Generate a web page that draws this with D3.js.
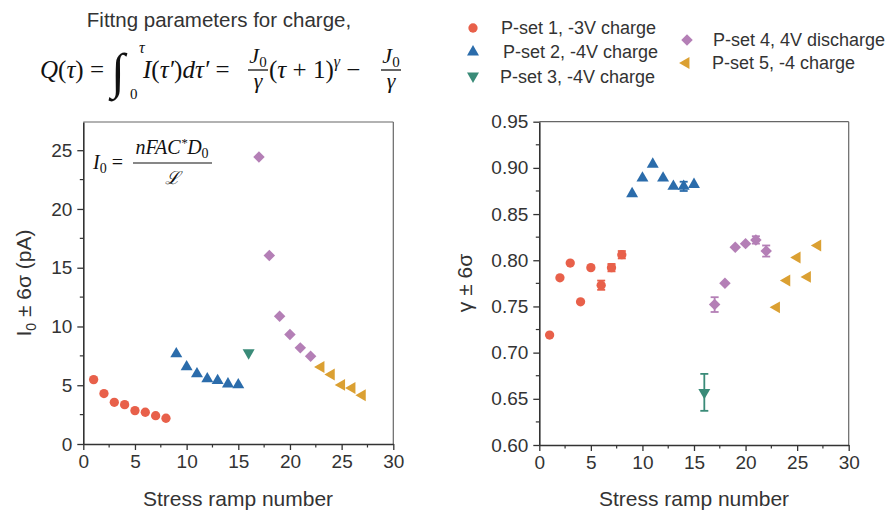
<!DOCTYPE html>
<html>
<head>
<meta charset="utf-8">
<script src="https://cdn.jsdelivr.net/npm/d3@7"></script>
<style>
body{margin:0;background:#fff;}
svg{font-family:"Liberation Sans",Arial,sans-serif;}
</style>
</head>
<body>
<svg id="chart" width="893" height="514"></svg>
<script>
// ramp numbers and values for each P-set
var set1X=[1,2,3,4,5,6,7,8]
var set1I=[5.48,4.29,3.55,3.35,2.84,2.70,2.41,2.19]
var set1G=[0.719,0.781,0.797,0.755,0.792,0.773,0.792,0.806]
var set1E=[0.002,0.002,0.003,0.003,0.003,0.005,0.004,0.004]

var set2X=[9,10,11,12,13,14,15]
var set2I=[7.67,6.56,5.97,5.54,5.40,5.11,5.03]
var set2G=[0.872,0.889,0.904,0.889,0.880,0.880,0.882]
var set2E=[0.002,0.002,0.002,0.003,0.002,0.005,0.002]

var set3X=[16]
var set3I=[7.76]
var set3G=[0.657]
var set3E=[0.020]

var set4X=[17,18,19,20,21,22]
var set4I=[24.43,16.05,10.88,9.32,8.18,7.47]
var set4G=[0.752,0.775,0.814,0.818,0.822,0.810]
var set4E=[0.008,0.003,0.003,0.003,0.004,0.006]

var set5X=[23,24,25,26,27]
var set5I=[6.56,5.91,5.03,4.77,4.15]
var set5G=[0.749,0.778,0.803,0.782,0.816]
var set5E=[0.002,0.002,0.002,0.002,0.002]

var legendNames=["P-set 1, -3V charge","P-set 2, -4V charge","P-set 3, -4V charge","P-set 4, 4V discharge","P-set 5, -4 charge"]
var xTicks=[0,5,10,15,20,25,30]
var leftTicks=[0,5,10,15,20,25]
var rightTicks=[0.60,0.65,0.70,0.75,0.80,0.85,0.90,0.95]

var sets=[
    {x:set1X,i:set1I,g:set1G,e:set1E,color:"#e8604a",shape:d3.symbolCircle,rot:0,size:68},
    {x:set2X,i:set2I,g:set2G,e:set2E,color:"#2b6cab",shape:d3.symbolTriangle,rot:0,size:62},
    {x:set3X,i:set3I,g:set3G,e:set3E,color:"#3a8b78",shape:d3.symbolTriangle,rot:180,size:62},
    {x:set4X,i:set4I,g:set4G,e:set4E,color:"#b47fb6",shape:d3.symbolSquare,rot:45,size:66},
    {x:set5X,i:set5I,g:set5G,e:set5E,color:"#dba032",shape:d3.symbolTriangle,rot:-90,size:62}
]

var svg=d3.select("#chart")
var ink="#333"

var drawPanel=function(xScale,yScale,yTicks,yFormat,minorY,key)
{
    var g=svg.append("g")
    var x0=xScale.range()[0], x1=xScale.range()[1]
    var y0=yScale.range()[0], y1=yScale.range()[1]

    // frame top and right
    g.append("line").attr("x1",x0).attr("x2",x1).attr("y1",y1).attr("y2",y1)
     .attr("stroke","#666").attr("stroke-width",1.2)
    g.append("line").attr("x1",x1).attr("x2",x1).attr("y1",y1).attr("y2",y0)
     .attr("stroke","#666").attr("stroke-width",1.2)

    var xMinor=d3.range(2.5,30,5)
    g.selectAll(".xm").data(xMinor).enter().append("line")
     .attr("x1",d=>xScale(d)).attr("x2",d=>xScale(d))
     .attr("y1",y0).attr("y2",y0+3.5).attr("stroke",ink).attr("stroke-width",1.2)
    g.selectAll(".ym").data(minorY).enter().append("line")
     .attr("x1",x0).attr("x2",x0-3.5)
     .attr("y1",d=>yScale(d)).attr("y2",d=>yScale(d)).attr("stroke",ink).attr("stroke-width",1.2)

    var xAxis=g.append("g").attr("transform","translate(0,"+y0+")")
     .call(d3.axisBottom(xScale).tickValues(xTicks).tickSize(6).tickPadding(5).tickSizeOuter(0))
    var yAxis=g.append("g").attr("transform","translate("+x0+",0)")
     .call(d3.axisLeft(yScale).tickValues(yTicks).tickFormat(yFormat).tickSize(6).tickPadding(5).tickSizeOuter(0))
    ;[xAxis,yAxis].forEach(function(a)
    {
        a.select(".domain").attr("stroke",ink).attr("stroke-width",1.6)
        a.selectAll(".tick line").attr("stroke",ink).attr("stroke-width",1.3)
        a.selectAll(".tick text").attr("fill",ink).style("font-size","19px")
         .style("font-family","'Liberation Sans',Arial,sans-serif")
    })

    sets.forEach(function(s)
    {
        var pts=s.x.map(function(x,k){return {x:x,y:s[key][k],e:key=="g"?s.e[k]:0}})
        var eb=g.selectAll(null).data(pts.filter(p=>p.e>=0.004)).enter().append("g")
         .attr("stroke",s.color).attr("stroke-width",1.8)
        eb.append("line").attr("x1",p=>xScale(p.x)).attr("x2",p=>xScale(p.x))
         .attr("y1",p=>yScale(p.y-p.e)).attr("y2",p=>yScale(p.y+p.e))
        eb.append("line").attr("x1",p=>xScale(p.x)-4).attr("x2",p=>xScale(p.x)+4)
         .attr("y1",p=>yScale(p.y-p.e)).attr("y2",p=>yScale(p.y-p.e))
        eb.append("line").attr("x1",p=>xScale(p.x)-4).attr("x2",p=>xScale(p.x)+4)
         .attr("y1",p=>yScale(p.y+p.e)).attr("y2",p=>yScale(p.y+p.e))
        g.selectAll(null).data(pts).enter().append("path")
         .attr("d",d3.symbol().type(s.shape).size(s.size))
         .attr("transform",p=>"translate("+xScale(p.x)+","+yScale(p.y)+") rotate("+s.rot+")")
         .attr("fill",s.color)
    })
}

// left panel: I0
var xLeft=d3.scaleLinear().domain([0,30]).range([83.3,393.3])
var yLeft=d3.scaleLinear().domain([0,27.4]).range([444,122])
drawPanel(xLeft,yLeft,leftTicks,d3.format("d"),d3.range(2.5,27.4,5),"i")

// right panel: gamma
var xRight=d3.scaleLinear().domain([0,30]).range([539.3,848.7])
var yRight=d3.scaleLinear().domain([0.6,0.95]).range([445,121.7])
drawPanel(xRight,yRight,rightTicks,d3.format(".2f"),d3.range(0.625,0.95,0.05),"g")

// axis titles
svg.append("text").attr("x",238).attr("y",506).attr("text-anchor","middle")
 .attr("fill",ink).style("font-size","21px").text("Stress ramp number")
svg.append("text").attr("x",694).attr("y",506).attr("text-anchor","middle")
 .attr("fill",ink).style("font-size","21px").text("Stress ramp number")

var yl=svg.append("text").attr("transform","translate(31,283) rotate(-90)")
 .attr("text-anchor","middle").attr("fill",ink).style("font-size","21px")
yl.append("tspan").text("I")
yl.append("tspan").attr("dy",5).style("font-size","14px").text("0")
yl.append("tspan").attr("dy",-5).text(" ± 6σ (pA)")

svg.append("text").attr("transform","translate(472,283) rotate(-90)")
 .attr("text-anchor","middle").attr("fill",ink).style("font-size","21px").text("γ ± 6σ")

// legend
var legendPos=[[473,28,501,34],[473,52,503,58],[473,76,500,83],[687,40,713,46],[686,63,712,69]]
sets.forEach(function(s,k)
{
    var p=legendPos[k]
    svg.append("path").attr("d",d3.symbol().type(s.shape).size(s.size))
     .attr("transform","translate("+p[0]+","+p[1]+") rotate("+s.rot+")").attr("fill",s.color)
    svg.append("text").attr("x",p[2]).attr("y",p[3]).attr("fill",ink)
     .style("font-size","18px").text(legendNames[k])
})

// equations
svg.append("text").attr("x",219).attr("y",27).attr("text-anchor","middle")
 .attr("fill",ink).style("font-size","20.5px").text("Fittng parameters for charge,")

var eq=svg.append("g").attr("fill","#111").style("font-family","'Liberation Serif',serif").style("font-style","italic")
var q=eq.append("text").attr("x",40).attr("y",78).style("font-size","25px")
q.append("tspan").text("Q")
q.append("tspan").style("font-style","normal").text("(")
q.append("tspan").text("τ")
q.append("tspan").style("font-style","normal").text(") =")
eq.append("text").attr("x",111).attr("y",88).style("font-size","50px").text("∫")
eq.append("text").attr("x",139).attr("y",53).style("font-size","16px").text("τ")
eq.append("text").attr("x",130).attr("y",99).style("font-style","normal").style("font-size","15px").text("0")
var q2=eq.append("text").attr("x",143).attr("y",78).style("font-size","25px")
q2.append("tspan").text("I")
q2.append("tspan").style("font-style","normal").text("(")
q2.append("tspan").text("τ′")
q2.append("tspan").style("font-style","normal").text(")")
q2.append("tspan").text("dτ′")
q2.append("tspan").style("font-style","normal").text(" =")
var frac=function(cx,w)
{
    var n=eq.append("text").attr("x",cx).attr("y",63).attr("text-anchor","middle").style("font-size","22px")
    n.append("tspan").text("J")
    n.append("tspan").attr("dy",4).style("font-style","normal").style("font-size","15px").text("0")
    eq.append("line").attr("x1",cx-w/2).attr("x2",cx+w/2).attr("y1",70).attr("y2",70)
     .attr("stroke","#111").attr("stroke-width",1.3)
    eq.append("text").attr("x",cx).attr("y",88).attr("text-anchor","middle").style("font-size","22px").text("γ")
}
frac(258,20)
var q3=eq.append("text").attr("x",269).attr("y",78).style("font-size","25px")
q3.append("tspan").style("font-style","normal").text("(")
q3.append("tspan").text("τ")
q3.append("tspan").style("font-style","normal").text(" + 1)")
q3.append("tspan").attr("dy",-11).style("font-size","16px").text("γ")
q3.append("tspan").attr("dy",11).style("font-style","normal").text(" −")
frac(391,20)

var ins=svg.append("g").attr("fill","#111").style("font-family","'Liberation Serif',serif").style("font-style","italic")
var i0=ins.append("text").attr("x",93).attr("y",169).style("font-size","20px")
i0.append("tspan").text("I")
i0.append("tspan").attr("dy",4).style("font-style","normal").style("font-size","14px").text("0")
i0.append("tspan").attr("dy",-4).style("font-style","normal").text(" =")
var nu=ins.append("text").attr("x",172).attr("y",154).attr("text-anchor","middle").style("font-size","20px")
nu.append("tspan").text("nFAC")
nu.append("tspan").attr("dy",-7).style("font-size","13px").text("*")
nu.append("tspan").attr("dy",7).text("D")
nu.append("tspan").attr("dy",4).style("font-style","normal").style("font-size","14px").text("0")
ins.append("line").attr("x1",133).attr("x2",212).attr("y1",163).attr("y2",163).attr("stroke","#111").attr("stroke-width",1.2)
ins.append("text").attr("x",172).attr("y",184).attr("text-anchor","middle").style("font-size","18px").text("ℒ")
</script>
</body>
</html>
